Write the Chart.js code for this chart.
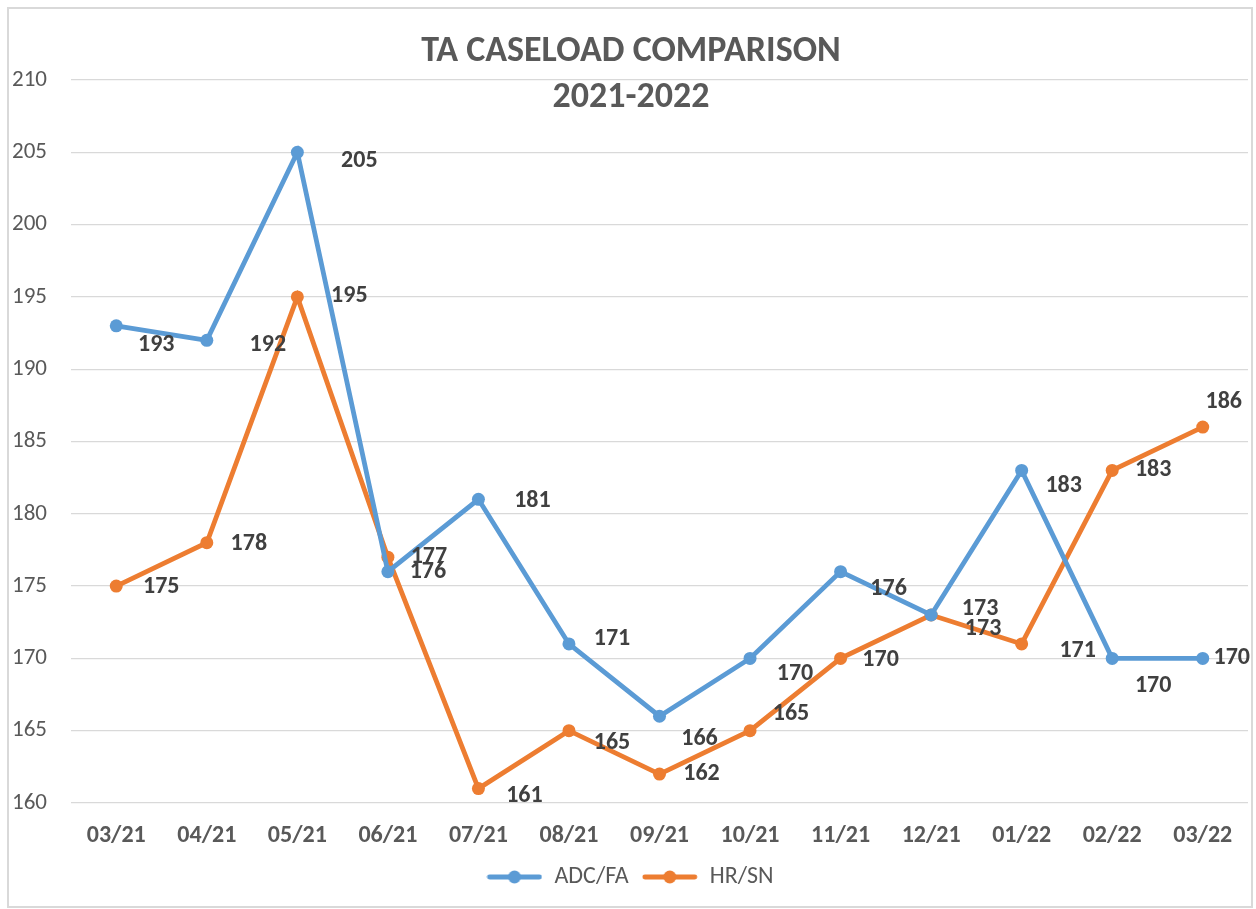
<!DOCTYPE html>
<html>
<head>
<meta charset="utf-8">
<script src="https://cdn.jsdelivr.net/npm/chart.js@4.4.1/dist/chart.umd.min.js"></script>
<style>
  html, body { margin: 0; padding: 0; background: #ffffff; }
  #wrap { width: 1256px; height: 909px; position: relative; }
</style>
</head>
<body>
<div id="wrap"><canvas id="c" width="1256" height="909"></canvas></div>
<script>
// ---- data ----
const categories = ['03/21', '04/21', '05/21', '06/21', '07/21', '08/21', '09/21', '10/21', '11/21', '12/21', '01/22', '02/22', '03/22'];
const adcFa = [193, 192, 205, 176, 181, 171, 166, 170, 176, 173, 183, 170, 170];
const hrSn  = [175, 178, 195, 177, 161, 165, 162, 165, 170, 173, 171, 183, 186];
const seriesNames = ['ADC/FA', 'HR/SN'];
const titleLines = ['TA CASELOAD COMPARISON', '2021-2022'];
const yMin = 160, yMax = 210, yStep = 5;

// ---- styling / label placement (not data) ----
const FONT = 'Carlito, Lato, "Liberation Sans", sans-serif';
const COLORS = ['#5B9BD5', '#ED7D31'];
const labelOffsets = [
  [[40,19],[61,5],[62,9],[40,0],[54,2],[43,-5],[40,23],[45,16],[48,17],[49,-6],[42,16],[41,28],[29,0]],
  [[45,1],[42,1],[52,-1],[41,0],[46,7],[43,12],[42,0],[41,-17],[40,2],[52,14],[56,7],[41,0],[21,-25]]
];

function makeMarker(color) {
  const cv = document.createElement('canvas');
  cv.width = 56; cv.height = 14;
  const g = cv.getContext('2d');
  g.strokeStyle = color; g.lineWidth = 4.8; g.lineCap = 'round';
  g.beginPath(); g.moveTo(3, 7); g.lineTo(53, 7); g.stroke();
  g.fillStyle = color;
  g.beginPath(); g.arc(28, 7, 6.5, 0, Math.PI * 2); g.fill();
  return cv;
}

const framePlugin = {
  id: 'frame',
  beforeDraw(chart) {
    const ctx = chart.ctx;
    ctx.save();
    ctx.fillStyle = '#ffffff';
    ctx.fillRect(0, 0, chart.width, chart.height);
    ctx.strokeStyle = '#D9D9D9';
    ctx.lineWidth = 2;
    ctx.strokeRect(8, 8, 1244, 899);
    ctx.restore();
  },
  afterDraw(chart) {
    const ctx = chart.ctx;
    ctx.save();
    ctx.fillStyle = '#595959';
    ctx.font = 'bold 36px ' + FONT;
    ctx.textAlign = 'center';
    ctx.textBaseline = 'middle';
    ctx.fillText(titleLines[0], 631, 52);
    ctx.fillText(titleLines[1], 631, 98);
    ctx.restore();
  }
};

const labelPlugin = {
  id: 'valueLabels',
  afterDatasetsDraw(chart) {
    const ctx = chart.ctx;
    ctx.save();
    ctx.font = 'bold 24px ' + FONT;
    ctx.fillStyle = '#404040';
    ctx.textAlign = 'center';
    ctx.textBaseline = 'middle';
    chart.data.datasets.forEach((ds, di) => {
      const meta = chart.getDatasetMeta(di);
      meta.data.forEach((pt, i) => {
        const off = labelOffsets[di][i];
        ctx.fillText(String(ds.data[i]), pt.x + off[0], pt.y + off[1]);
      });
    });
    ctx.restore();
  }
};

const mkDataset = (label, data, color) => ({
  label, data,
  borderColor: color, backgroundColor: color,
  borderWidth: 4.8,
  pointRadius: 6.5, pointHoverRadius: 6.5,
  pointBackgroundColor: color, pointBorderColor: color, pointBorderWidth: 0,
  tension: 0, fill: false
});

new Chart(document.getElementById('c'), {
  type: 'line',
  data: {
    labels: categories,
    datasets: [
      mkDataset(seriesNames[0], adcFa, COLORS[0]),
      mkDataset(seriesNames[1], hrSn, COLORS[1])
    ]
  },
  options: {
    responsive: false,
    animation: false,
    events: [],
    layout: { padding: { top: 80, left: 12, right: 8, bottom: 10 } },
    scales: {
      x: {
        offset: true,
        grid: { display: false, drawTicks: false },
        border: { display: false },
        ticks: { color: '#595959', font: { family: FONT, size: 24, weight: 'bold' }, padding: 19, maxRotation: 0 },
        afterFit(s) { s.height = 49; }
      },
      y: {
        min: yMin, max: yMax,
        grid: { color: '#D9D9D9', lineWidth: 1.3, drawTicks: false },
        border: { display: false },
        ticks: { stepSize: yStep, color: '#595959', font: { family: FONT, size: 23 }, crossAlign: 'far', padding: 0 },
        afterFit(s) { s.width = 59; }
      }
    },
    plugins: {
      title: { display: false },
      tooltip: { enabled: false },
      legend: {
        position: 'bottom',
        labels: {
          usePointStyle: true,
          pointStyleWidth: 56,
          padding: 13,
          color: '#595959',
          font: { family: FONT, size: 24 },
          generateLabels(chart) {
            return chart.data.datasets.map((ds, i) => ({
              text: ds.label,
              pointStyle: makeMarker(ds.borderColor),
              fillStyle: ds.borderColor,
              strokeStyle: ds.borderColor,
              lineWidth: 0,
              hidden: false,
              datasetIndex: i,
              fontColor: '#595959'
            }));
          }
        }
      }
    }
  },
  plugins: [framePlugin, labelPlugin]
});
</script>
</body>
</html>
